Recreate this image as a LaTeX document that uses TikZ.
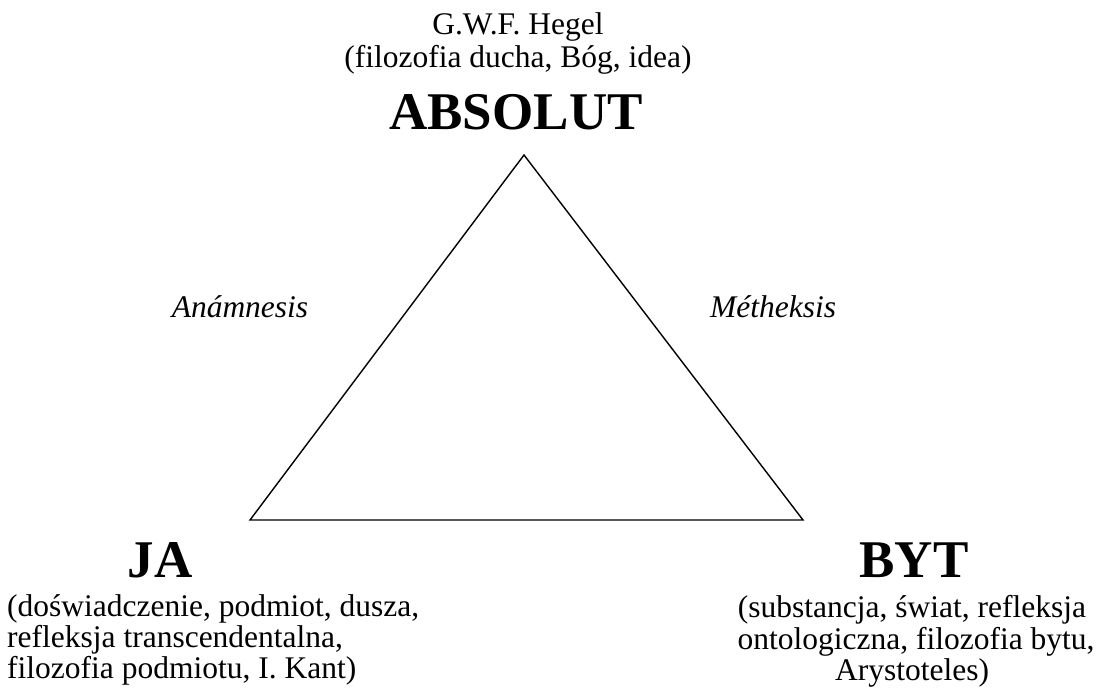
\documentclass[tikz,border=0pt]{standalone}
\usepackage{fontspec}
\setmainfont{Liberation Serif}
\begin{document}
\begin{tikzpicture}[x=1pt,y=-1pt,
  body/.style={inner sep=0pt,anchor=base,font=\fontsize{31.5}{32}\selectfont},
  bodyl/.style={body,anchor=base west},
  big/.style={inner sep=0pt,anchor=base,font=\fontsize{53}{60}\selectfont\bfseries},
  lbl/.style={inner sep=0pt,anchor=base,font=\fontsize{31.5}{32}\selectfont\itshape},
  edge/.style={draw=black,line width=1.4pt,line join=miter}]
\useasboundingbox (0,0) rectangle (1103,698);
\coordinate (top) at (524,155);
\coordinate (bl) at (250,520);
\coordinate (br) at (803,520);
\draw[edge] (top) -- (bl) -- (br) -- cycle;
\node[body] (hegel1) at (518,35) {G.W.F. Hegel};
\node[body] (hegel2) at (518,68) {(filozofia ducha, Bóg, idea)};
\node[big] (absolut) at (516,130) {ABSOLUT};
\node[big] (ja) at (160,577) {JA};
\node[big] (byt) at (914,577) {BYT};
\node[lbl] (anam) at (240,317) {Anámnesis};
\node[lbl,anchor=base west] (meth) at (710,317) {Métheksis};
\node[bodyl] (ja1) at (7,616) {(doświadczenie, podmiot, dusza,};
\node[bodyl] (ja2) at (7,647) {refleksja transcendentalna,};
\node[bodyl] (ja3) at (7,678) {filozofia podmiotu, I. Kant)};
\node[body] (byt1) at (912,617) {(substancja, świat, refleksja};
\node[body] (byt2) at (916,649) {ontologiczna, filozofia bytu,};
\node[body] (byt3) at (912,680) {Arystoteles)};
\end{tikzpicture}
\end{document}
